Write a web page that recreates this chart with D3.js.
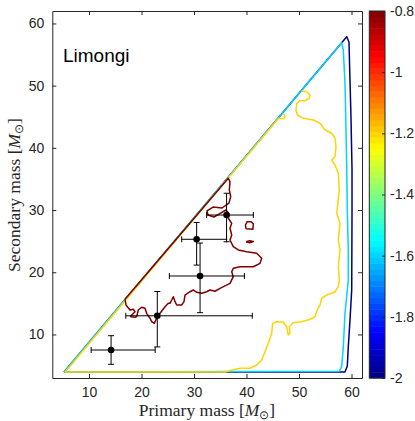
<!DOCTYPE html>
<html>
<head>
<meta charset="utf-8">
<script src="https://cdn.jsdelivr.net/npm/d3@7"></script>
<style>
	body { margin: 0; background: #fff; }
	text { font-family: "Liberation Sans", Arial, sans-serif; fill: #262626; }
	.serif { font-family: "Liberation Serif", "Times New Roman", serif; }
</style>
</head>
<body>
<script>

// contour levels (log scale), matching the colorbar
var levels = [-2, -1.6, -1.2, -0.8];

// contour at -2
var contourA = [[5.23, 3.95], [59.09, 57.87], [59.52, 57.02], [59.71, 50.9], [59.9, 44.96], [60.1, 36.44],
	[60.1, 30.0], [60.04, 17.15], [59.71, 12.3], [59.39, 8.03], [59.2, 4.93], [58.76, 3.98], [5.23, 3.95]];

// contour at -1.6
var contourB = [[5.23, 3.95], [58.13, 56.91], [58.44, 55.73], [58.76, 50.38], [58.9, 45.0], [59.09, 36.97],
	[59.2, 30.0], [59.39, 23.58], [59.39, 18.76], [58.76, 13.4], [58.44, 8.03], [58.13, 4.82], [57.68, 4.1],
	[5.23, 3.95]];

// contour at -1.2
var contourC = [[50.51, 49.14], [51.47, 49.03], [52.09, 48.5], [51.96, 47.97], [51.14, 47.58], [50.19, 47.58],
	[49.56, 47.16], [49.43, 46.09], [49.68, 45.28], [50.82, 44.75], [52.72, 44.48], [54.0, 43.95], [54.95, 42.87],
	[56.23, 42.34], [56.86, 41.54], [57.05, 40.19], [56.86, 38.58], [56.23, 38.05], [56.86, 37.24], [57.49, 35.91],
	[57.68, 33.23], [57.18, 29.48], [57.81, 27.87], [57.49, 25.19], [57.81, 23.58], [57.49, 20.89], [57.68, 18.76],
	[57.49, 17.68], [56.86, 16.87], [55.28, 16.34], [54.32, 15.81], [54.0, 14.74], [53.49, 13.93], [53.05, 12.86],
	[52.1, 12.44], [50.51, 12.05], [48.91, 11.89], [48.15, 11.25], [48.28, 10.19], [47.96, 9.91], [47.66, 11.25],
	[47.01, 11.96], [45.75, 12.05], [44.99, 11.79], [44.8, 10.19], [44.15, 8.58], [43.52, 7.23], [42.89, 5.89],
	[41.94, 5.09], [40.66, 4.56], [38.76, 4.56], [36.85, 4.21], [35.9, 3.96], [5.45, 3.96], [46.06, 44.72],
	[46.38, 44.75], [47.01, 44.69], [47.33, 45.01], [47.01, 45.56]];

// contour at -0.8
var contourD = [[16.85, 15.65], [17.04, 14.74], [17.8, 13.93], [18.43, 14.05], [18.76, 13.66], [18.13, 13.13],
	[17.94, 12.86], [18.76, 12.76], [19.08, 12.86], [19.38, 13.93], [20.03, 14.37], [20.66, 14.21], [20.98, 13.4],
	[21.61, 12.6], [21.94, 12.05], [22.43, 11.79], [22.89, 12.6], [23.52, 13.4], [24.47, 14.46], [25.1, 15.01],
	[25.42, 15.01], [25.75, 15.54], [26.05, 16.07], [26.38, 15.27], [26.7, 14.74], [27.65, 14.74], [28.09, 15.27],
	[28.28, 16.34], [29.23, 16.87], [29.86, 17.15], [30.51, 16.78], [31.46, 16.62], [32.41, 16.87], [33.04, 17.15],
	[34.0, 16.95], [34.95, 17.4], [36.85, 18.22], [37.48, 19.29], [37.18, 20.09], [37.48, 20.64], [38.76, 20.89],
	[41.29, 20.89], [42.57, 21.44], [42.89, 22.24], [41.94, 23.05], [40.04, 23.31], [38.44, 23.58], [37.48, 24.11],
	[36.85, 25.19], [37.18, 25.99], [36.85, 27.07], [37.18, 27.87], [36.53, 28.68], [36.66, 29.37], [36.09, 30.01],
	[35.14, 29.53], [33.81, 28.88], [32.66, 29.2], [32.47, 29.85], [33.62, 30.49], [35.33, 30.33], [36.66, 31.13],
	[36.99, 32.15], [36.72, 33.23], [36.85, 34.56], [36.53, 35.11], [16.85, 15.65]];
var islandD1 = [[39.9, 27.0], [41.2, 26.9], [41.3, 27.8], [40.9, 28.1], [40.1, 28.1], [39.8, 27.6], [39.9, 27.0]];
var islandD2 = [[39.9, 24.9], [40.6, 25.05], [41.3, 24.95], [40.6, 24.75], [39.9, 24.9]];

// observed binaries with error bars
var primaryMass = [14.2, 23.0, 31.15, 30.5, 36.2];
var primaryLo = [10.4, 17.0, 25.3, 27.65, 32.4];
var primaryHi = [22.6, 41.1, 39.6, 36.2, 41.3];
var secondaryMass = [7.5, 13.0, 19.4, 25.3, 29.2];
var secondaryLo = [5.2, 8.0, 13.5, 21.15, 24.9];
var secondaryHi = [9.8, 16.9, 24.7, 28.0, 32.7];

var xTicks = [10, 20, 30, 40, 50, 60];
var yTicks = [10, 20, 30, 40, 50, 60];
var cbTicks = [-2, -1.8, -1.6, -1.4, -1.2, -1, -0.8];


var W = 415, H = 421;
var svg = d3.select("body").append("svg")
	.attr("width", W)
	.attr("height", H);

var x = d3.scaleLinear().domain([3, 62]).range([52.3, 362]);
var y = d3.scaleLinear().domain([3, 62]).range([378, 11]);

// jet colormap
function jet(t)
{
	function c(v) { return Math.max(0, Math.min(1, v)); }
	var r = c(1.5 - Math.abs(4 * t - 3));
	var g = c(1.5 - Math.abs(4 * t - 2));
	var b = c(1.5 - Math.abs(4 * t - 1));
	return d3.rgb(r * 255, g * 255, b * 255).toString();
}
var color = d3.scaleSequential(jet).domain([-2, -0.8]);

var line = d3.line()
	.x(function(d) { return x(d[0]); })
	.y(function(d) { return y(d[1]); });

var contours = [
	{ level: levels[0], paths: [contourA] },
	{ level: levels[1], paths: [contourB] },
	{ level: levels[2], paths: [contourC] },
	{ level: levels[3], paths: [contourD, islandD1, islandD2] }
];

var cg = svg.append("g");
contours.forEach(function(c)
{
	cg.selectAll(null)
		.data(c.paths)
		.enter()
		.append("path")
		.attr("d", line)
		.attr("fill", "none")
		.attr("stroke", color(c.level))
		.attr("stroke-width", 1.5)
		.attr("stroke-linejoin", "round");
});

// error bars
var pts = primaryMass.map(function(d, i)
{
	return { x: d, y: secondaryMass[i], xl: primaryLo[i], xh: primaryHi[i], yl: secondaryLo[i], yh: secondaryHi[i] };
});
var cap = 3;
var eb = svg.append("g")
	.attr("stroke", "#000")
	.attr("stroke-width", 1)
	.attr("fill", "none");

pts.forEach(function(d)
{
	eb.append("line")
		.attr("x1", x(d.xl)).attr("x2", x(d.xh))
		.attr("y1", y(d.y)).attr("y2", y(d.y));
	eb.append("line")
		.attr("x1", x(d.x)).attr("x2", x(d.x))
		.attr("y1", y(d.yl)).attr("y2", y(d.yh));
	[d.xl, d.xh].forEach(function(v)
	{
		eb.append("line")
			.attr("x1", x(v)).attr("x2", x(v))
			.attr("y1", y(d.y) - cap).attr("y2", y(d.y) + cap);
	});
	[d.yl, d.yh].forEach(function(v)
	{
		eb.append("line")
			.attr("x1", x(d.x) - cap).attr("x2", x(d.x) + cap)
			.attr("y1", y(v)).attr("y2", y(v));
	});
});

svg.selectAll("circle.pt")
	.data(pts)
	.enter()
	.append("circle")
	.attr("class", "pt")
	.attr("cx", function(d) { return x(d.x); })
	.attr("cy", function(d) { return y(d.y); })
	.attr("r", 3.3)
	.attr("fill", "#000");

// axes, ticks pointing inward
function styleAxis(g)
{
	g.selectAll("path").attr("stroke", "#262626");
	g.selectAll("line").attr("stroke", "#262626");
	g.selectAll("text").attr("fill", "#262626").style("font-size", "14px")
		.attr("font-family", "Liberation Sans, Arial, sans-serif");
}

svg.append("g")
	.attr("transform", "translate(0," + y(3) + ")")
	.call(d3.axisBottom(x).tickValues(xTicks).tickSizeInner(-4).tickSizeOuter(0).tickPadding(9))
	.call(styleAxis);
svg.append("g")
	.attr("transform", "translate(0," + y(62) + ")")
	.call(d3.axisTop(x).tickValues(xTicks).tickSizeInner(-4).tickSizeOuter(0).tickFormat(""))
	.call(styleAxis);
svg.append("g")
	.attr("transform", "translate(" + x(3) + ",0)")
	.call(d3.axisLeft(y).tickValues(yTicks).tickSizeInner(-4).tickSizeOuter(0).tickPadding(8))
	.call(styleAxis);
svg.append("g")
	.attr("transform", "translate(" + x(62) + ",0)")
	.call(d3.axisRight(y).tickValues(yTicks).tickSizeInner(-4).tickSizeOuter(0).tickFormat(""))
	.call(styleAxis);

// colorbar
var cbX = 369.3, cbW = 15.7;
var cy = d3.scaleLinear().domain([-2, -0.8]).range([378, 11]);
var nBands = 64;
var bands = d3.range(nBands);
svg.append("g").selectAll("rect")
	.data(bands)
	.enter()
	.append("rect")
	.attr("x", cbX)
	.attr("width", cbW)
	.attr("y", function(i) { return cy(-2 + (i + 1) * 1.2 / nBands); })
	.attr("height", function(i) { return cy(-2) - cy(-2 + 1.2 / nBands) + 0.5; })
	.attr("fill", function(i) { return jet((i + 0.5) / nBands); });

svg.append("rect")
	.attr("x", cbX).attr("y", cy(-0.8))
	.attr("width", cbW).attr("height", cy(-2) - cy(-0.8))
	.attr("fill", "none")
	.attr("stroke", "#262626")
	.attr("stroke-width", 1);

svg.append("g")
	.attr("transform", "translate(" + (cbX + cbW) + ",0)")
	.call(d3.axisRight(cy).tickValues(cbTicks).tickSizeInner(-3).tickSizeOuter(0).tickPadding(5)
		.tickFormat(function(d) { return String(d); }))
	.call(styleAxis)
	.call(function(g) { g.select(".domain").remove(); });

// labels
svg.append("text")
	.attr("x", 63)
	.attr("y", 62)
	.style("font-size", "19px")
	.style("fill", "#000")
	.text("Limongi");

var xl = svg.append("text")
	.attr("class", "serif")
	.attr("x", 207)
	.attr("y", 416)
	.attr("text-anchor", "middle")
	.style("font-size", "17.5px");
xl.append("tspan").text("Primary mass [");
xl.append("tspan").style("font-style", "italic").text("M");
xl.append("tspan").attr("dy", 3).style("font-size", "12px").text("⊙");
xl.append("tspan").attr("dy", -3).text("]");

var yl = svg.append("text")
	.attr("class", "serif")
	.attr("transform", "translate(20,195) rotate(-90)")
	.attr("text-anchor", "middle")
	.style("font-size", "17.5px");
yl.append("tspan").text("Secondary mass [");
yl.append("tspan").style("font-style", "italic").text("M");
yl.append("tspan").attr("dy", 3).style("font-size", "12px").text("⊙");
yl.append("tspan").attr("dy", -3).text("]");

</script>
</body>
</html>
